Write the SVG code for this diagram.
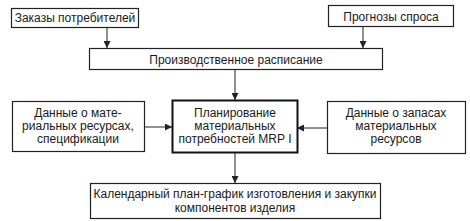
<svg xmlns="http://www.w3.org/2000/svg" width="470" height="221" viewBox="0 0 470 221">
<style>
.b{fill:#fff;stroke:#222;stroke-width:1.2}
.t{font-family:"Liberation Sans",Arial,sans-serif;font-size:12px;fill:#1a1a1a;text-anchor:middle}
.c{stroke:#222;stroke-width:1;fill:none}
</style>
<defs>
<marker id="a" viewBox="0 0 10 10" refX="10" refY="5" markerWidth="7" markerHeight="7" markerUnits="userSpaceOnUse" orient="auto"><path d="M0,0L10,5L0,10z" fill="#222"/></marker>
</defs>
<rect width="470" height="221" fill="#fff"/>
<g id="connectors">
<path class="c" d="M107,27V48" marker-end="url(#a)"/>
<path class="c" d="M363,26V48" marker-end="url(#a)"/>
<path class="c" d="M235,69V100" marker-end="url(#a)"/>
<path class="c" d="M144,127H172" marker-end="url(#a)"/>
<path class="c" d="M327,128H297" marker-end="url(#a)"/>
<path class="c" d="M235,153V183" marker-end="url(#a)"/>
</g>
<g id="orders"><rect class="b" x="11.5" y="8.5" width="127" height="19"/><text class="t" x="75" y="22">Заказы потребителей</text></g>
<g id="forecast"><rect class="b" x="328.5" y="5.5" width="125" height="21"/><text class="t" x="391" y="20.5">Прогнозы спроса</text></g>
<g id="schedule"><rect class="b" x="89.5" y="48.5" width="293" height="21"/><text class="t" x="236" y="63.5">Производственное расписание</text></g>
<g id="materials"><rect class="b" x="12.5" y="101.5" width="132" height="50"/><text class="t" x="78" y="117">Данные о мате-</text><text class="t" x="78" y="130">риальных ресурсах,</text><text class="t" x="78" y="143">спецификации</text></g>
<g id="mrp"><rect x="172.5" y="100.5" width="125" height="52" fill="#fff" stroke="#111" stroke-width="2"/><text class="t" x="235" y="117">Планирование</text><text class="t" x="235" y="130">материальных</text><text class="t" x="235" y="143">потребностей MRP I</text></g>
<g id="stock"><rect class="b" x="327.5" y="101.5" width="138" height="52"/><text class="t" x="396" y="117">Данные о запасах</text><text class="t" x="396" y="130">материальных</text><text class="t" x="396" y="143">ресурсов</text></g>
<g id="plan"><rect class="b" x="90.5" y="183.5" width="290" height="35"/><text class="t" x="235" y="197.5">Календарный план-график изготовления и закупки</text><text class="t" x="235" y="211.5">компонентов изделия</text></g>
</svg>
